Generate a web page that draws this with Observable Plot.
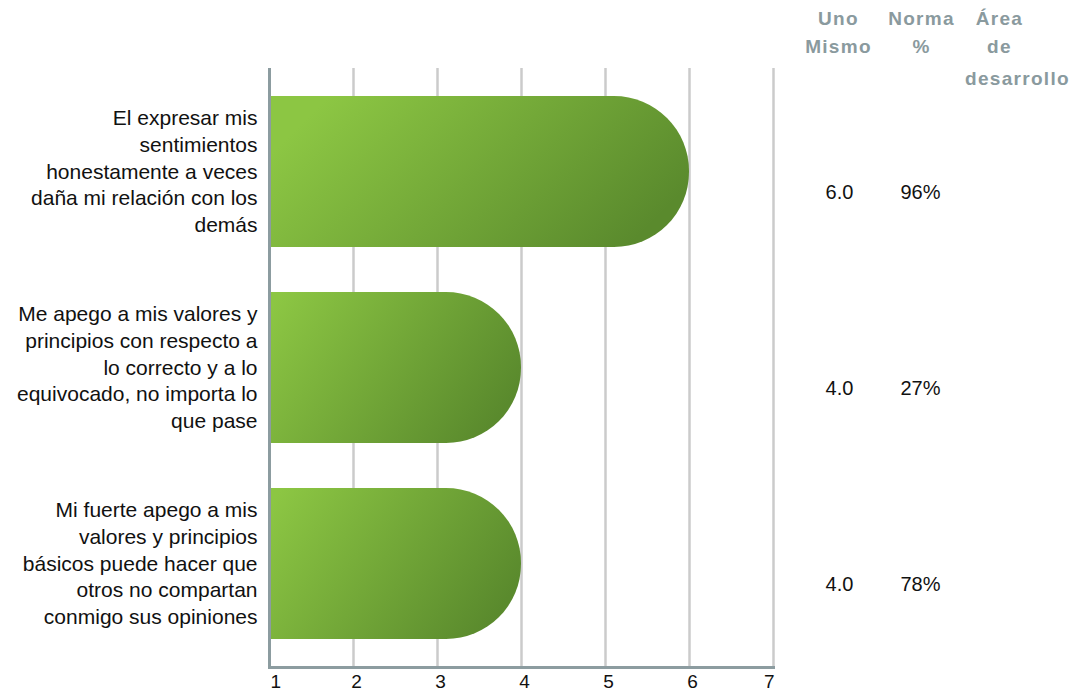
<!DOCTYPE html>
<html>
<head>
<meta charset="utf-8">
<script src="https://cdn.jsdelivr.net/npm/d3@7"></script>
<script src="https://cdn.jsdelivr.net/npm/@observablehq/plot@0.6"></script>
<style>
  html, body { margin: 0; padding: 0; background: #fff; }
  #chart svg { display: block; }
</style>
</head>
<body>
<div id="chart"></div>
<script>
// ---- data ----
const categories = [
  "El expresar mis sentimientos honestamente a veces daña mi relación con los demás",
  "Me apego a mis valores y principios con respecto a lo correcto y a lo equivocado, no importa lo que pase",
  "Mi fuerte apego a mis valores y principios básicos puede hacer que otros no compartan conmigo sus opiniones"
];
const categoryLines = [
  ["El expresar mis", "sentimientos", "honestamente a veces", "daña mi relación con los", "demás"],
  ["Me apego a mis valores y", "principios con respecto a", "lo correcto y a lo", "equivocado, no importa lo", "que pase"],
  ["Mi fuerte apego a mis", "valores y principios", "básicos puede hacer que", "otros no compartan", "conmigo sus opiniones"]
];
const unoMismo = [6.0, 4.0, 4.0];
const normaPct = [96, 27, 78];
const areaDesarrollo = ["", "", ""];
const xTicks = [1, 2, 3, 4, 5, 6, 7];
const xDomain = [1, 7];
const headerUno = ["Uno", "Mismo"];
const headerNorma = ["Norma", "%"];
const headerArea = ["Área", "de", "desarrollo"];

// ---- table built from arrays ----
const rows = categories.map((c, i) => ({
  cat: c,
  label: categoryLines[i].join("\n"),
  uno: unoMismo[i],
  norma: normaPct[i],
  area: areaDesarrollo[i]
}));

const FONT = "Arial, 'Liberation Sans', Helvetica, sans-serif";
const AXIS_GRAY = "#8c9ca0";
const HEAD_GRAY = "#8a9a9e";

const gradientDefs = () => {
  const defs = document.createElementNS("http://www.w3.org/2000/svg", "defs");
  defs.innerHTML =
    `<linearGradient id="barGrad" x1="0.18" y1="0.35" x2="1" y2="0.6">
       <stop offset="0" stop-color="#8cc643"/>
       <stop offset="1" stop-color="#5a8a2d"/>
     </linearGradient>`;
  return defs;
};

const headStyle = { frameAnchor: "top-right", textAnchor: "middle", lineAnchor: "top", fontSize: 19, fontWeight: "bold", lineHeight: 1.45, fill: HEAD_GRAY };
const tickStyle = { frameAnchor: "bottom", lineAnchor: "top", dy: 7, fontSize: 19, fill: "#111" };

const plot = Plot.plot({
  width: 1075,
  height: 691,
  marginLeft: 269,
  marginRight: 302,
  marginTop: 68,
  marginBottom: 24,
  x: { domain: xDomain, axis: null },
  y: { domain: categories, axis: null, paddingInner: 0.23, paddingOuter: 0.143 },
  style: { fontFamily: FONT, background: "#fff", overflow: "visible" },
  marks: [
    gradientDefs,
    Plot.ruleX(xTicks.slice(1), { stroke: "#cbcbcb", strokeWidth: 2.5 }),
    Plot.barX(rows, { y: "cat", x1: xDomain[0] - 1, x2: "uno", rx: 75, fill: "url(#barGrad)", clip: true }),
    Plot.ruleX(xTicks.slice(0, 1), { stroke: AXIS_GRAY, strokeWidth: 3 }),
    Plot.frame({ anchor: "bottom", stroke: AXIS_GRAY, strokeWidth: 3 }),
    // category labels
    Plot.text(rows, { y: "cat", text: "label", frameAnchor: "left", textAnchor: "end", dx: -12, dy: -2,
      fontSize: 21, lineHeight: 1.28, fill: "#111" }),
    // value columns
    Plot.text(rows, { y: "cat", text: d => d.uno.toFixed(1), frameAnchor: "right", textAnchor: "middle", dx: 66, dy: 21, fontSize: 20, fill: "#111" }),
    Plot.text(rows, { y: "cat", text: d => d.norma + "%", frameAnchor: "right", textAnchor: "middle", dx: 147, dy: 21, fontSize: 20, fill: "#111" }),
    Plot.text(rows, { y: "cat", text: "area", frameAnchor: "right", textAnchor: "middle", dx: 227, dy: 21, fontSize: 20, fill: "#111" }),
    // x tick labels
    Plot.text(xTicks.slice(0, 1), { ...tickStyle, x: d => d, text: d => String(d), textAnchor: "start", dx: 1 }),
    Plot.text(xTicks.slice(1, -1), { ...tickStyle, x: d => d, text: d => String(d), textAnchor: "middle", dx: 3 }),
    Plot.text(xTicks.slice(-1), { ...tickStyle, x: d => d, text: d => String(d), textAnchor: "end", dx: 1 }),
    // headers
    Plot.text([headerUno.join("\n")], { ...headStyle, dx: 65, dy: -63 }),
    Plot.text([headerNorma.join("\n")], { ...headStyle, dx: 148, dy: -63 }),
    Plot.text([headerArea.slice(0, 2).join("\n")], { ...headStyle, dx: 226, dy: -63 }),
    Plot.text(headerArea.slice(2), { ...headStyle, dx: 244, dy: -3 })
  ]
});

// slight letter spacing on the header labels
plot.querySelectorAll("text").forEach(t => {
  if (t.getAttribute("fill") === HEAD_GRAY || (t.parentNode && t.parentNode.getAttribute && t.parentNode.getAttribute("fill") === HEAD_GRAY)) {
    t.style.letterSpacing = "1.3px";
  }
});

document.getElementById("chart").appendChild(plot);
</script>
</body>
</html>
